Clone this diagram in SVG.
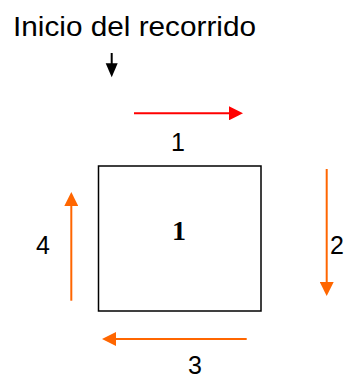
<svg xmlns="http://www.w3.org/2000/svg" width="346" height="375" viewBox="0 0 346 375">
<defs>
<style>
.t{font-family:"Liberation Sans",Arial,sans-serif;fill:#000}
.red{stroke:#ff0000;stroke-width:2;fill:none}
.org{stroke:#ff6600;stroke-width:2;fill:none}
.blk{stroke:#000;stroke-width:2;fill:none}
</style>
<marker id="hr" markerUnits="userSpaceOnUse" markerWidth="14" markerHeight="14" viewBox="0 0 14 14" refX="0" refY="7" orient="auto"><path d="M0,0 L14,7 L0,14 z" fill="#ff0000"/></marker>
<marker id="ho" markerUnits="userSpaceOnUse" markerWidth="14" markerHeight="14" viewBox="0 0 14 14" refX="0" refY="7" orient="auto"><path d="M0,0 L14,7 L0,14 z" fill="#ff6600"/></marker>
</defs>
<rect width="346" height="375" fill="#fff"/>
<text class="t" x="13" y="36" font-size="27" textLength="243" lengthAdjust="spacingAndGlyphs">Inicio del recorrido</text>
<g id="node1">
<rect x="98.5" y="166" width="162.5" height="145" fill="none" stroke="#000" stroke-width="1.5"/>
<text x="179" y="240" font-family="'Liberation Serif','Times New Roman',serif" font-weight="bold" font-size="28" text-anchor="middle">1</text>
</g>
<g id="connectors">
<line class="blk" x1="111.7" y1="53" x2="111.7" y2="64"/>
<path d="M105.7,63.3 L117.7,63.3 L111.7,77.3 z" fill="#000"/>
<line class="red" x1="134" y1="113.3" x2="229" y2="113.3" marker-end="url(#hr)"/>
<line class="org" x1="326.7" y1="169" x2="326.7" y2="282" marker-end="url(#ho)"/>
<line class="org" x1="246.7" y1="339" x2="116" y2="339" marker-end="url(#ho)"/>
<line class="org" x1="71.3" y1="300.7" x2="71.3" y2="206" marker-end="url(#ho)"/>
</g>
<g id="labels">
<text class="t" x="178" y="151" font-size="25" text-anchor="middle">1</text>
<text class="t" x="337" y="254" font-size="25" text-anchor="middle">2</text>
<text class="t" x="195" y="374" font-size="25" text-anchor="middle">3</text>
<text class="t" x="43" y="254" font-size="25" text-anchor="middle">4</text>
</g>
</svg>
